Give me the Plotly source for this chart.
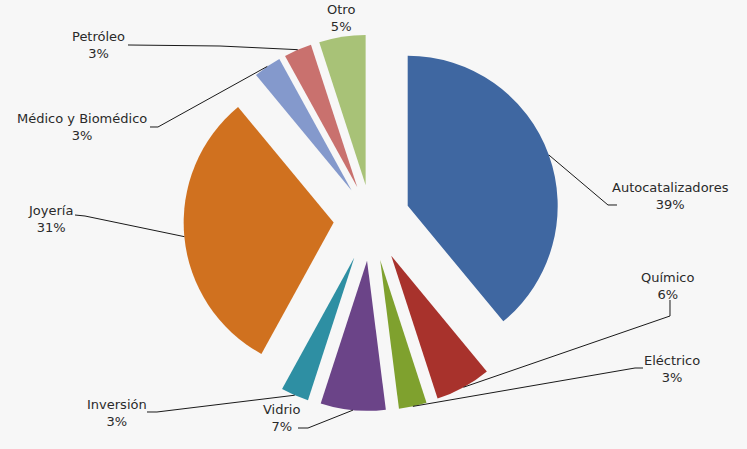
import math
import plotly.graph_objects as go

# ---- data ----
labels = ["Autocatalizadores", "Químico", "Eléctrico", "Vidrio", "Inversión",
          "Joyería", "Médico y Biomédico", "Petróleo", "Otro"]
values = [39, 6, 3, 7, 3, 31, 3, 3, 5]

# ---- style ----
colors = ["#3F67A1", "#A8322C", "#7FA12E", "#6B4488", "#2E8FA3",
          "#D0711F", "#8499CC", "#C9716E", "#A8C277"]
pulls = [0.26, 0.28, 0.28, 0.28, 0.28, 0.25, 0.23, 0.23, 0.23]

W, H = 747, 449
CX, CY, SIDE = 371, 219, 384          # pie domain centre / size (px)
R = SIDE / 2 / (1 + max(pulls))       # radius plotly will use

# label centres (px) and label-side elbow points of leader lines (px)
label_pos = [(670, 196), (668, 286), (672, 369), (281, 418), (117, 413),
             (50, 219), (82, 127), (98, 45), (341, 18)]
elbows = [[(617, 205), (608, 205)],
          [(670, 300), (670, 316)],
          [(643, 368), (635, 368)],
          [(298, 428), (308, 428)],
          [(147, 412), (157, 412)],
          [(75, 215), (85, 216)],
          [(150, 127), (158, 127)],
          [(128, 45), (220, 46)],
          None]

def px2paper(x, y):
    return x / W, 1 - y / H

fig = go.Figure(go.Pie(
    labels=labels, values=values, sort=False, direction="clockwise",
    rotation=0, pull=pulls, textinfo="none", hoverinfo="label+percent",
    marker=dict(colors=colors, line=dict(width=0)),
    domain=dict(x=[(CX - SIDE / 2) / W, (CX + SIDE / 2) / W],
                y=[1 - (CY + SIDE / 2) / H, 1 - (CY - SIDE / 2) / H]),
    showlegend=False,
))

total = sum(values)
cum = 0
shapes = []
annotations = []
for i, (lab, v) in enumerate(zip(labels, values)):
    mid = (cum + v / 2) / total * 2 * math.pi
    cum += v
    ux, uy = math.sin(mid), -math.cos(mid)
    d = R * (1 + pulls[i])
    ex, ey = CX + d * ux, CY + d * uy
    pct = round(v / total * 100)
    lx, ly = label_pos[i]
    x, y = px2paper(lx, ly)
    annotations.append(dict(x=x, y=y, xref="paper", yref="paper",
                            text=f"{lab}<br>{pct}%", showarrow=False,
                            xanchor="center", yanchor="middle",
                            font=dict(family="DejaVu Sans", size=13, color="#2a2a2a")))
    if elbows[i]:
        pts = elbows[i] + [(ex, ey)]
        path = "M " + " L ".join(
            "{:.5f},{:.5f}".format(*px2paper(px, py)) for px, py in pts)
        shapes.append(dict(type="path", xref="paper", yref="paper", path=path,
                           line=dict(color="#1a1a1a", width=1)))

fig.update_layout(
    width=W, height=H, margin=dict(l=0, r=0, t=0, b=0),
    paper_bgcolor="#F7F7F7", plot_bgcolor="#F7F7F7",
    shapes=shapes, annotations=annotations,
)

fig.write_html("out.html", config={"displayModeBar": False},
               post_script="document.body.style.margin='0px';")
